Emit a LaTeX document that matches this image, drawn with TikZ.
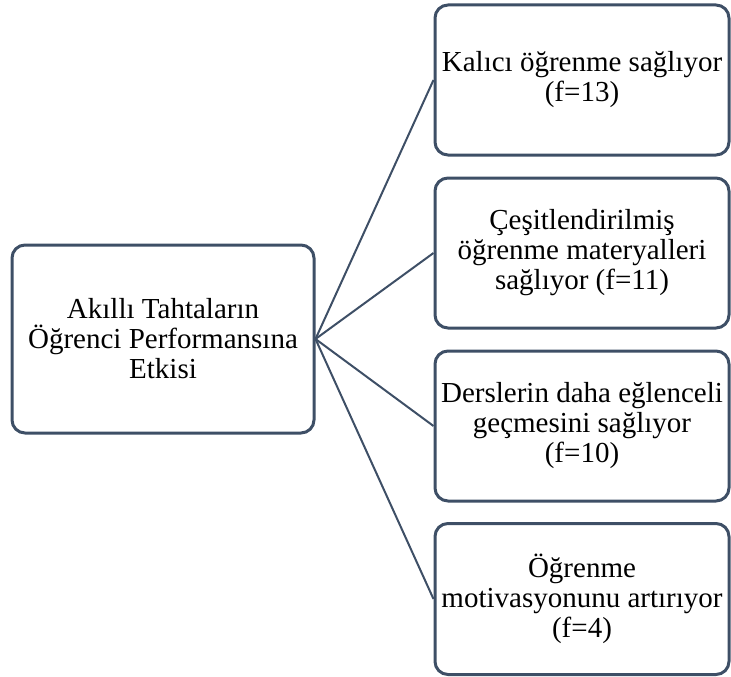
\documentclass[tikz,border=0pt]{standalone}
\usepackage{fontspec}
\setmainfont{Liberation Serif}
\definecolor{boxline}{HTML}{3E4F66}
\begin{document}
\begin{tikzpicture}[x=1pt,y=-1pt,
  box/.style={draw=boxline, line width=3pt, rounded corners=13pt, align=center, inner sep=0pt, font=\fontsize{29}{30}\selectfont},
  link/.style={draw=boxline, line width=2pt}]
\useasboundingbox (0,0) rectangle (731,677);
\node[box, minimum width=302pt, minimum height=188pt] (root) at (163,339) {Akıllı Tahtaların\\Öğrenci Performansına\\Etkisi};
\node[box, minimum width=294pt, minimum height=150pt] (a) at (582,80) {Kalıcı öğrenme sağlıyor\\(f=13)};
\node[box, minimum width=294pt, minimum height=150pt] (b) at (582,253) {Çeşitlendirilmiş\\öğrenme materyalleri\\sağlıyor (f=11)};
\node[box, minimum width=294pt, minimum height=150pt] (c) at (582,426) {Derslerin daha eğlenceli\\geçmesini sağlıyor\\(f=10)};
\node[box, minimum width=294pt, minimum height=151pt] (d) at (582,599) {Öğrenme\\motivasyonunu artırıyor\\(f=4)};
\foreach \n in {a,b,c,d} \draw[link] (root.east) -- (\n.west);
\end{tikzpicture}
\end{document}
